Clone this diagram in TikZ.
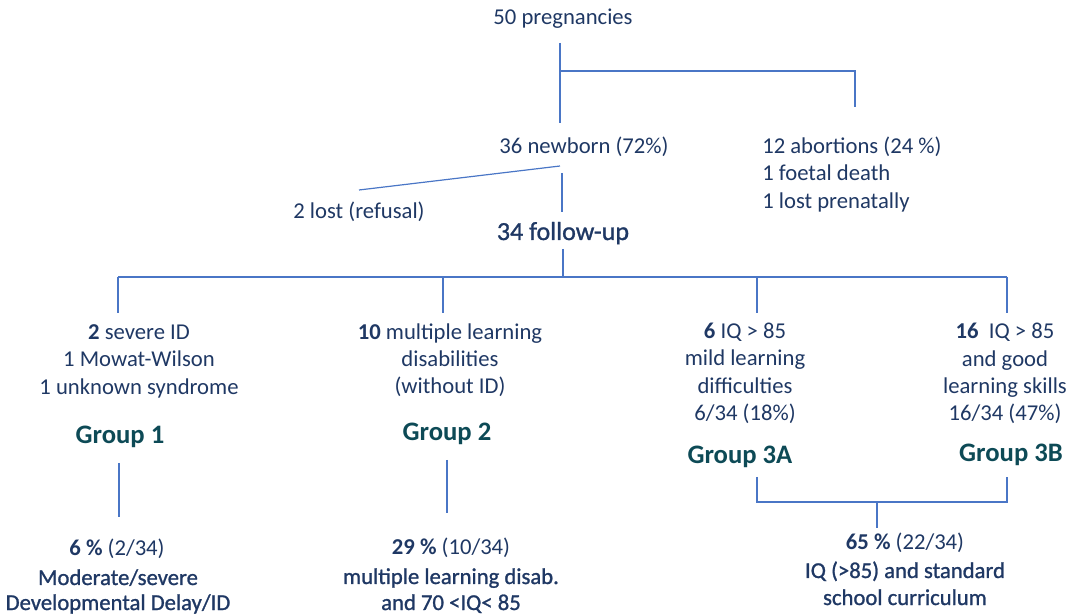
\documentclass[tikz,border=0pt]{standalone}
\usepackage{fontspec}
\setmainfont{Carlito}
\newfontfamily\heavyfont[FakeBold=1.1]{Carlito}
\definecolor{txtcol}{HTML}{1F3864}
\definecolor{grpcol}{HTML}{0D4A56}
\definecolor{lncol}{HTML}{4A76C6}
\tikzset{
  tx/.style={inner sep=0pt, text=txtcol, font=\fontsize{17}{20}\selectfont, anchor=base},
  txl/.style={tx, anchor=base west},
  bigtx/.style={tx, font=\fontsize{19.5}{23}\selectfont\heavyfont},
  restx/.style={tx, font=\fontsize{17}{20}\selectfont\heavyfont},
  grouplbl/.style={inner sep=0pt, text=grpcol, font=\fontsize{20}{24}\selectfont\bfseries, anchor=base},
  conn/.style={draw=lncol, line width=0.9pt}
}
\begin{document}
\begin{tikzpicture}[x=0.75pt,y=-0.75pt]
\useasboundingbox (0,0) rectangle (1079,616);

% ---- text nodes ----
\node[tx] (preg) at (563,25) {50 pregnancies};
\node[tx] (newborn) at (584,154) {36 newborn (72\%)};
\node[txl] (abo1) at (762,154) {12 abortions (24 \%)};
\node[txl] (abo2) at (762,181) {1 foetal death};
\node[txl] (abo3) at (762,209) {1 lost prenatally};
\node[tx] (lost) at (359,219) {2 lost (refusal)};
\node[bigtx] (follow) at (563,240) {34 follow-up};

\node[tx] (g1a) at (139,340) {\textbf{2} severe ID};
\node[tx] (g1b) at (139,367) {1 Mowat-Wilson};
\node[tx] (g1c) at (139,395) {1 unknown syndrome};
\node[grouplbl] (grp1) at (120,444) {Group 1};

\node[tx] (g2a) at (450,340) {\textbf{10} multiple learning};
\node[tx] (g2b) at (450,367) {disabilities};
\node[tx] (g2c) at (450,394) {(without ID)};
\node[grouplbl] (grp2) at (447,441) {Group 2};

\node[tx] (g3a) at (745,339) {\textbf{6} IQ > 85};
\node[tx] (g3b) at (745,366) {mild learning};
\node[tx] (g3c) at (745,394) {difficulties};
\node[tx] (g3d) at (745,421) {6/34 (18\%)};
\node[grouplbl] (grp3a) at (740,464) {Group 3A};

\node[tx] (g4a) at (1005,339) {\textbf{16}\ \ IQ > 85};
\node[tx] (g4b) at (1005,367) {and good};
\node[tx] (g4c) at (1005,394) {learning skills};
\node[tx] (g4d) at (1005,421) {16/34 (47\%)};
\node[grouplbl] (grp3b) at (1011,462) {Group 3B};

\node[tx] (r1a) at (117,556) {\textbf{6 \%} (2/34)};
\node[restx] (r1b) at (118,585) {Moderate/severe};
\node[restx] (r1c) at (118,610) {Developmental Delay/ID};

\node[tx] (r2a) at (451,555) {\textbf{29 \%} (10/34)};
\node[restx] (r2b) at (451,584) {multiple learning disab.};
\node[restx] (r2c) at (451,610) {and 70 <IQ< 85};

\node[tx] (r3a) at (905,550) {\textbf{65 \%} (22/34)};
\node[restx] (r3b) at (905,578) {IQ (>85) and standard};
\node[restx] (r3c) at (905,605) {school curriculum};

% ---- connector points ----
\coordinate (pregB) at (560,43);
\coordinate (pregJ) at (560,71);
\coordinate (newT) at (560,123);
\coordinate (aboJ) at (855,71);
\coordinate (aboT) at (855,107);
\coordinate (newL) at (560,166);
\coordinate (lostT) at (359,190);
\coordinate (newB) at (562,173);
\coordinate (folT) at (562,212);
\coordinate (folB) at (563,249);
\coordinate (folJ) at (563,277);
\coordinate (h1) at (118,277);
\coordinate (h2) at (443,277);
\coordinate (h3) at (757,277);
\coordinate (h4) at (1007,277);
\coordinate (t1) at (118,313);
\coordinate (t2) at (443,313);
\coordinate (t3) at (757,313);
\coordinate (t4) at (1007,313);
\coordinate (g1B) at (119,463);
\coordinate (r1T) at (119,517);
\coordinate (g2B) at (447,460);
\coordinate (r2T) at (447,513);
\coordinate (g3aB) at (757,477);
\coordinate (g3aJ) at (757,502);
\coordinate (g3bB) at (1007,477);
\coordinate (g3bJ) at (1007,502);
\coordinate (g3J) at (877,502);
\coordinate (r3T) at (877,528);

% ---- connectors ----
\draw[conn] (pregB) -- (newT);
\draw[conn] (pregJ) -- (aboJ) -- (aboT);
\draw[conn] (newL) -- (lostT);
\draw[conn] (newB) -- (folT);
\draw[conn] (folB) -- (folJ);
\draw[conn] (h1) -- (h4);
\draw[conn] (h1) -- (t1);
\draw[conn] (h2) -- (t2);
\draw[conn] (h3) -- (t3);
\draw[conn] (h4) -- (t4);
\draw[conn] (g1B) -- (r1T);
\draw[conn] (g2B) -- (r2T);
\draw[conn] (g3aB) -- (g3aJ) -- (g3bJ) -- (g3bB);
\draw[conn] (g3J) -- (r3T);
\end{tikzpicture}
\end{document}
